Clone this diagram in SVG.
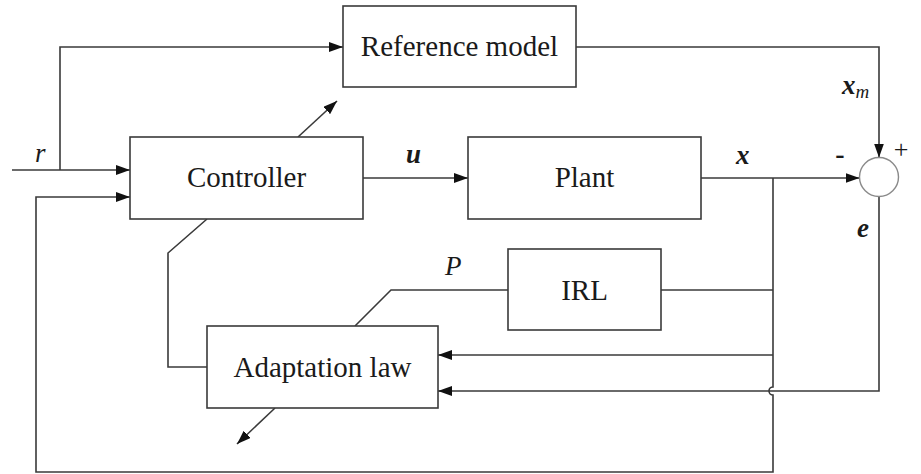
<svg xmlns="http://www.w3.org/2000/svg" width="921" height="474" viewBox="0 0 921 474">
  <defs>
    <marker id="arrow" viewBox="0 0 14 10" refX="14" refY="5" markerWidth="14" markerHeight="10" markerUnits="userSpaceOnUse" orient="auto">
      <path d="M0,0 L14,5 L0,10 z" fill="#111111"/>
    </marker>
  </defs>
  <rect width="921" height="474" fill="#ffffff"/>

  <!-- connectors: shared line look set once on the group -->
  <g id="connectors" fill="none" stroke="#3a3a3a" stroke-width="1.6">
    <!-- r input and branch to reference model -->
    <path d="M12,170 L130,170" marker-end="url(#arrow)"/>
    <path d="M60,170 L60,47 L343,47" marker-end="url(#arrow)"/>
    <!-- reference model output xm to summing junction -->
    <path d="M576,47 L879,47 L879,157.5" marker-end="url(#arrow)"/>
    <!-- controller to plant -->
    <path d="M363,178 L468,178" marker-end="url(#arrow)"/>
    <!-- plant output x to summing junction -->
    <path d="M701,178 L859.5,178" marker-end="url(#arrow)"/>
    <!-- x branch: down the right side, hopping over the e line, feedback to controller -->
    <path d="M773,178 L773,387 A4,4 0 0 0 773,395 L773,472 L36,472 L36,197 L130,197" marker-end="url(#arrow)"/>
    <!-- x into adaptation law -->
    <path d="M773,355 L438,355" marker-end="url(#arrow)"/>
    <!-- IRL input from x -->
    <path d="M773,290 L661,290"/>
    <!-- e into adaptation law -->
    <path d="M879,196.5 L879,391 L438,391" marker-end="url(#arrow)"/>
    <!-- IRL output P to adaptation law -->
    <path d="M508,290 L391,290 L355,326"/>
    <!-- adaptation law to controller -->
    <path d="M207,367 L168,367 L168,253 L207,219"/>
    <!-- adjustable-parameter arrows -->
    <path d="M298,137 L337,101" marker-end="url(#arrow)"/>
    <path d="M275,408 L237,444" marker-end="url(#arrow)"/>
  </g>

  <!-- blocks: shared box and label look set on the wrapping group -->
  <g id="blocks" fill="#ffffff" stroke="#3a3a3a" stroke-width="1.6">
    <g id="reference-model">
      <rect x="343" y="6" width="233" height="81"/>
      <text x="459.5" y="56" font-family="Liberation Serif" font-size="29" text-anchor="middle" fill="#1a1a1a" stroke="none">Reference model</text>
    </g>
    <g id="controller">
      <rect x="130" y="137" width="233" height="82"/>
      <text x="246.5" y="187" font-family="Liberation Serif" font-size="29" text-anchor="middle" fill="#1a1a1a" stroke="none">Controller</text>
    </g>
    <g id="plant">
      <rect x="468" y="137" width="233" height="82"/>
      <text x="584.5" y="187" font-family="Liberation Serif" font-size="29" text-anchor="middle" fill="#1a1a1a" stroke="none">Plant</text>
    </g>
    <g id="irl">
      <rect x="508" y="249" width="153" height="81"/>
      <text x="584.5" y="300" font-family="Liberation Serif" font-size="29" text-anchor="middle" fill="#1a1a1a" stroke="none">IRL</text>
    </g>
    <g id="adaptation-law">
      <rect x="207" y="326" width="231" height="82"/>
      <text x="322.5" y="377" font-family="Liberation Serif" font-size="29" text-anchor="middle" fill="#1a1a1a" stroke="none">Adaptation law</text>
    </g>
  </g>

  <g id="summing-junction">
    <circle cx="879" cy="177" r="19.5" fill="#ffffff" stroke="#8a8a8a" stroke-width="1.4"/>
    <text x="901" y="158" font-family="Liberation Serif" font-size="26" text-anchor="middle" fill="#1a1a1a">+</text>
    <text x="840" y="163" font-family="Liberation Serif" font-size="28" font-weight="bold" text-anchor="middle" fill="#1a1a1a">-</text>
  </g>

  <!-- signal labels -->
  <g id="labels" fill="#1a1a1a">
    <text x="35" y="162" font-family="Liberation Serif" font-size="27" font-style="italic">r</text>
    <text x="406" y="163" font-family="Liberation Serif" font-size="27" font-style="italic" font-weight="bold">u</text>
    <text x="736" y="164" font-family="Liberation Serif" font-size="27" font-style="italic" font-weight="bold">x</text>
    <text x="842" y="94" font-family="Liberation Serif" font-size="27" font-style="italic" font-weight="bold">x<tspan font-weight="normal" font-size="19" dy="4">m</tspan></text>
    <text x="857" y="237" font-family="Liberation Serif" font-size="27" font-style="italic" font-weight="bold">e</text>
    <text x="445" y="275" font-family="Liberation Serif" font-size="27" font-style="italic">P</text>
  </g>
</svg>
